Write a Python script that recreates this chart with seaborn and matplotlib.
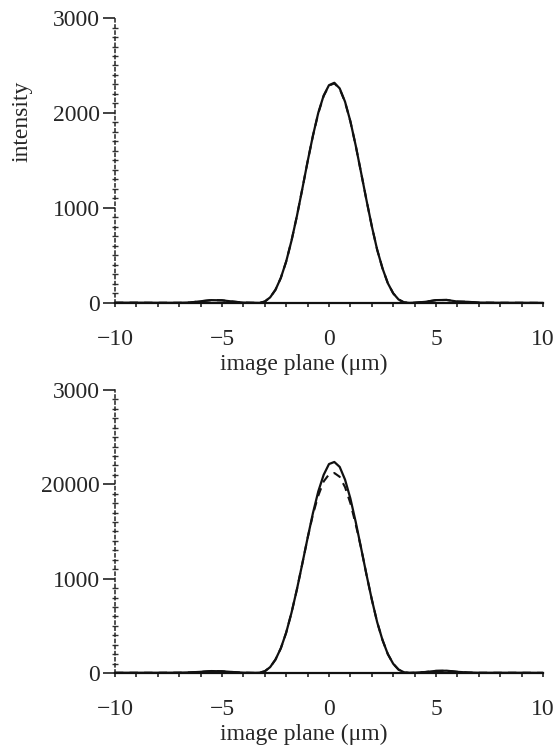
import numpy as np
import pandas as pd
import matplotlib
matplotlib.use('Agg')
import matplotlib.pyplot as plt
import seaborn as sns

##################################################################
# image plane position (um)
x_pos = [-10, -9, -8, -7, -6.5, -6, -5.5, -5, -4.5, -4, -3.5, -3.25, -3,
         -2.75, -2.5, -2.25, -2, -1.75, -1.5, -1.25, -1, -0.75, -0.5, -0.25,
         0, 0.25, 0.5, 0.75, 1, 1.25, 1.5, 1.75, 2, 2.25, 2.5, 2.75, 3, 3.25,
         3.5, 3.75, 4, 4.5, 5, 5.5, 6, 6.5, 7, 8, 9, 10]

top_solid = [3, 3, 2, 2, 5, 18, 30, 28, 15, 4, 2, 1, 15,
             59, 139, 264, 437, 657, 914, 1197, 1488, 1762, 2002, 2183,
             2293, 2318, 2259, 2119, 1913, 1656, 1372, 1085, 809, 562, 365, 208, 102, 37,
             7, 1, 3, 12, 30, 32, 15, 12, 4, 2, 2, 1]
top_dashed = [3, 3, 2, 2, 5, 18, 30, 28, 15, 4, 2, 1, 15,
              59, 139, 264, 437, 657, 914, 1197, 1488, 1760, 1998, 2178,
              2288, 2312, 2254, 2115, 1910, 1656, 1372, 1085, 809, 562, 365, 208, 102, 37,
              7, 1, 3, 12, 30, 32, 15, 12, 4, 2, 2, 1]

bottom_solid = [2, 2, 2, 3, 6, 12, 20, 18, 10, 3, 1, 3, 18,
                62, 142, 262, 428, 640, 885, 1155, 1430, 1695, 1925, 2100,
                2215, 2237, 2185, 2050, 1850, 1600, 1325, 1045, 780, 540, 350, 200, 98, 36,
                8, 1, 3, 10, 22, 24, 12, 5, 2, 2, 2, 1]
bottom_dashed = [2, 2, 2, 3, 6, 12, 20, 18, 10, 3, 1, 3, 18,
                 62, 142, 262, 428, 640, 885, 1155, 1430, 1680, 1880, 2030,
                 2105, 2120, 2080, 1970, 1800, 1575, 1325, 1045, 780, 540, 350, 200, 98, 36,
                 8, 1, 3, 10, 22, 24, 12, 5, 2, 2, 2, 1]

x_ticks = [-10, -5, 0, 5, 10]
x_ticklabels = ['\u221210', '\u22125', '0', '5', '10']
y_ticks = [0, 1000, 2000, 3000]
top_yticklabels = ['0', '1000', '2000', '3000']
bottom_yticklabels = ['0', '1000', '20000', '3000']
##################################################################

sns.set_theme(style='white')
plt.rcParams['font.family'] = ['Liberation Serif', 'DejaVu Serif']

fz = 17
fig = plt.figure(figsize=(5.56, 7.47), dpi=100)
ax_top = fig.add_axes([0.2068, 0.5944, 0.7698, 0.3815])
ax_bot = fig.add_axes([0.2068, 0.0991, 0.7698, 0.3788])

panels = [(ax_top, top_solid, top_dashed, top_yticklabels),
          (ax_bot, bottom_solid, bottom_dashed, bottom_yticklabels)]

for ax, ys, yd, ylabels in panels:
    df = pd.DataFrame({'x': x_pos, 'solid': ys, 'dashed': yd})
    sns.lineplot(data=df, x='x', y='dashed', ax=ax, color='#111111', lw=1.5,
                 linestyle=(0, (4, 3)), estimator=None, clip_on=False)
    sns.lineplot(data=df, x='x', y='solid', ax=ax, color='#111111', lw=1.6,
                 estimator=None, clip_on=False)
    ax.set_xlim(-10, 10)
    ax.set_ylim(0, 3000)

    ax.set_xticks(x_ticks, x_ticklabels)
    ax.set_xticks(np.arange(-10, 11, 1), minor=True)
    ax.set_yticks(y_ticks, ylabels)
    ax.set_yticks(np.arange(0, 3001, 100), minor=True)

    ax.tick_params(axis='x', which='both', direction='out', length=3, width=1.2,
                   color='#222222', pad=16, labelsize=fz, bottom=True)
    ax.tick_params(axis='y', which='major', direction='out', length=9, width=1.2,
                   color='#222222', pad=2, labelsize=fz, left=True)
    ax.tick_params(axis='y', which='minor', direction='inout', length=5, width=1.0,
                   color='#333333', left=True)

    for s in ['top', 'right']:
        ax.spines[s].set_visible(False)
    ax.spines['bottom'].set_linewidth(1.6)
    ax.spines['bottom'].set_color('#111111')
    ax.spines['left'].set_linewidth(1.1)
    ax.spines['left'].set_color('#222222')
    ax.spines['left'].set_linestyle((0, (2, 2)))

    ax.set_ylabel('')
    ax.set_xlabel('image plane (\u03bcm)', fontsize=fz, labelpad=0)
    ax.xaxis.set_label_coords(0.44, -0.18)

fig.text(0.04, 1 - 121/747, 'intensity', rotation=90, ha='center', va='center',
         fontsize=fz)

fig.savefig('out.png', dpi=100)
